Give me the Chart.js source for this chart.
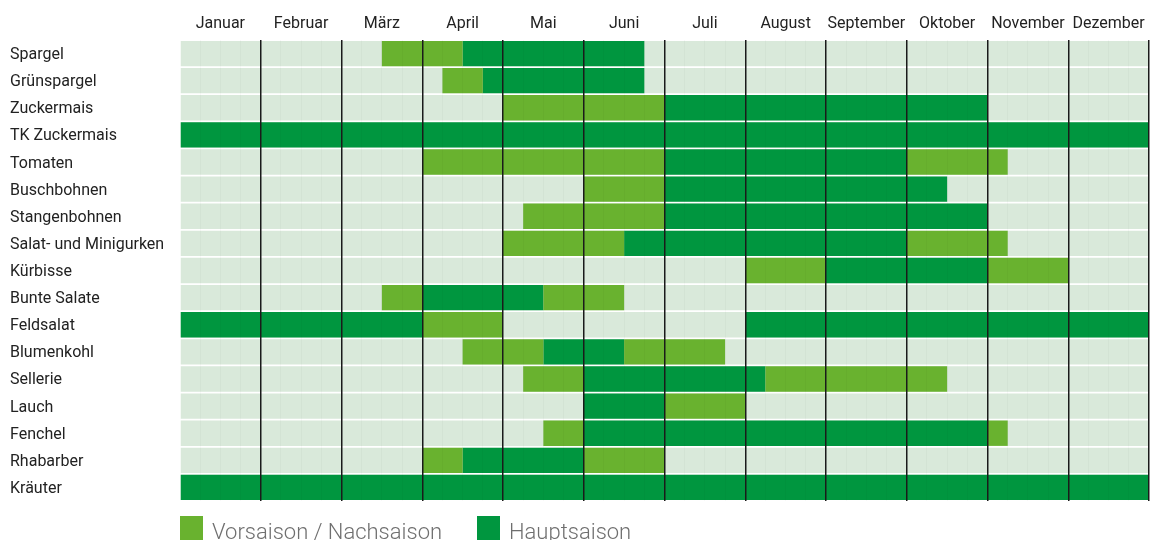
<!DOCTYPE html>
<html>
<head>
<meta charset="utf-8">
<script src="https://cdn.jsdelivr.net/npm/chart.js@4"></script>
<style>
  body { margin: 0; background: #fff; }
  #wrap { position: relative; width: 1159px; height: 540px; overflow: hidden; }
  .leg { position: absolute; top: 516px; height: 24px; font: 300 22px Roboto, sans-serif; color: #6f6f6f; }
  .leg i { position: absolute; left: 0; top: 0; width: 23px; height: 24px; }
  .leg span { position: absolute; left: 32px; top: 5px; line-height: 22px; white-space: nowrap; }
</style>
</head>
<body>
<div id="wrap">
  <canvas id="canvas" width="1159" height="540"></canvas>
  <div class="leg" style="left:180px"><i style="background:#69b22f"></i><span id="l1"></span></div>
  <div class="leg" style="left:477px"><i style="background:#00963f"></i><span id="l2"></span></div>
</div>
<script>
var MONTHS = ['Januar', 'Februar', 'März', 'April', 'Mai', 'Juni', 'Juli', 'August', 'September', 'Oktober', 'November', 'Dezember'];
var VEGETABLES = ['Spargel', 'Grünspargel', 'Zuckermais', 'TK Zuckermais', 'Tomaten', 'Buschbohnen', 'Stangenbohnen',
    'Salat- und Minigurken', 'Kürbisse', 'Bunte Salate', 'Feldsalat', 'Blumenkohl', 'Sellerie', 'Lauch', 'Fenchel',
    'Rhabarber', 'Kräuter'];

// seasons in months from 1 January (0) to 31 December (12)
var vorsaison = [[2.5, 3.5], [3.25, 3.75], [4, 6], null, [3, 6], [5, 6], [4.25, 6], [4, 5.5], [7, 8], [2.5, 3],
    [3, 4], [3.5, 4.5], [4.25, 5], null, [4.5, 5], [3, 3.5], null];
var nachsaison = [null, null, null, null, [9, 10.25], null, null, [9, 10.25], [10, 11], [4.5, 5.5],
    null, [5.5, 6.75], [7.25, 9.5], [6, 7], [10, 10.25], [5, 6], null];
var hauptsaison = [[3.5, 5.75], [3.75, 5.75], [6, 10], [0, 12], [6, 9], [6, 9.5], [6, 10], [5.5, 9], [8, 10], [3, 4.5],
    [0, 3], [4.5, 5.5], [5, 7.25], [5, 6], [5, 10], [3.5, 5], [0, 12]];
var hauptsaison2 = [null, null, null, null, null, null, null, null, null, null,
    [7, 12], null, null, null, null, null, null];
var ganzesJahr = VEGETABLES.map(function () { return [0, 12]; });

var LABEL_VOR = 'Vorsaison / Nachsaison';
var LABEL_HAUPT = 'Hauptsaison';
var light = '#69b22f';
var dark = '#00963f';

document.getElementById('l1').textContent = LABEL_VOR;
document.getElementById('l2').textContent = LABEL_HAUPT;

function bar(label, data, color) {
    return {
        label: label,
        data: data,
        backgroundColor: color,
        borderWidth: 0,
        grouped: false,
        barPercentage: 0.935,
        categoryPercentage: 1
    };
}

var ctx = document.getElementById('canvas').getContext('2d');
window.myChart = new Chart(ctx, {
    type: 'bar',
    data: {
        labels: VEGETABLES,
        datasets: [
            bar(LABEL_VOR, vorsaison, light),
            bar(LABEL_VOR, nachsaison, light),
            bar(LABEL_HAUPT, hauptsaison, dark),
            bar(LABEL_HAUPT, hauptsaison2, dark),
            bar('Jahr', ganzesJahr, '#d9e9da')
        ]
    },
    options: {
        indexAxis: 'y',
        responsive: false,
        animation: false,
        layout: { padding: { left: 10, right: 10, top: 0, bottom: 39 } },
        plugins: {
            legend: { display: false },
            tooltip: { enabled: false }
        },
        scales: {
            x: {
                type: 'linear',
                position: 'top',
                min: 0,
                max: 12,
                border: { display: false },
                grid: {
                    z: 1,
                    drawTicks: false,
                    color: function (c) {
                        var v = c.tick.value;
                        if (v === 0) return 'rgba(0,0,0,0)';
                        return v % 1 === 0 ? '#1a1a1a' : 'rgba(0,0,0,0.025)';
                    },
                    lineWidth: function (c) {
                        return c.tick.value % 1 === 0 ? 1.5 : 1;
                    }
                },
                ticks: {
                    stepSize: 0.25,
                    autoSkip: false,
                    maxRotation: 0,
                    padding: 6,
                    color: '#222',
                    font: { family: 'Roboto', size: 16 },
                    callback: function (v) {
                        return v % 1 === 0.5 ? MONTHS[Math.floor(v)] : '';
                    }
                },
                afterFit: function (scale) { scale.height = 40; }
            },
            y: {
                grid: { display: false },
                border: { display: false },
                ticks: {
                    crossAlign: 'far',
                    labelOffset: 1.5,
                    color: '#222',
                    font: { family: 'Roboto', size: 16 }
                },
                afterFit: function (scale) { scale.width = 170; }
            }
        }
    }
});
</script>
</body>
</html>
